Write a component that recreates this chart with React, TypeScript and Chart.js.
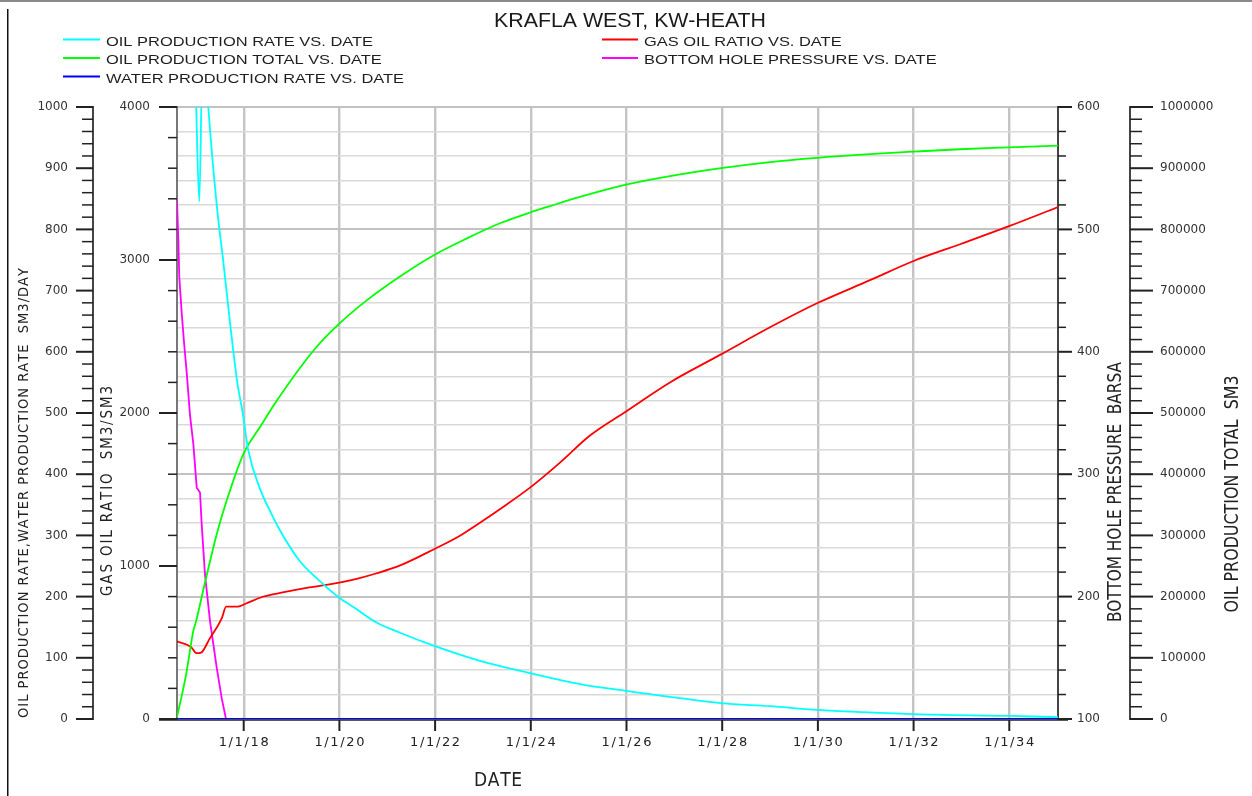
import React, { useEffect, useRef } from 'react';
import { Chart, registerables } from 'chart.js';

Chart.register(...registerables);

// ---------- texts ----------
const CHART_TITLE = 'KRAFLA WEST, KW-HEATH';
const X_TITLE = 'DATE';
const RATE_TITLE = 'OIL PRODUCTION RATE,WATER PRODUCTION RATE  SM3/DAY';
const GOR_TITLE = 'GAS OIL RATIO  SM3/SM3';
const BHP_TITLE = 'BOTTOM HOLE PRESSURE  BARSA';
const TOTAL_TITLE = 'OIL PRODUCTION TOTAL  SM3';

const seriesLabels = [
  'OIL PRODUCTION RATE VS. DATE',
  'OIL PRODUCTION TOTAL VS. DATE',
  'WATER PRODUCTION RATE VS. DATE',
  'GAS OIL RATIO VS. DATE',
  'BOTTOM HOLE PRESSURE VS. DATE',
];
const seriesColors = ['#00ffff', '#00ff00', '#0000ff', '#ff0000', '#ff00ff'];

// ---------- x axis (dates as decimal years) ----------
const X_MIN = 2016.606;
const X_MAX = 2035.018;
const xTickValues = [2018, 2020, 2022, 2024, 2026, 2028, 2030, 2032, 2034];
const xTickLabels = ['1/1/18', '1/1/20', '1/1/22', '1/1/24', '1/1/26', '1/1/28', '1/1/30', '1/1/32', '1/1/34'];

// ---------- y axes tick labels ----------
const rateTickLabels = [0, 100, 200, 300, 400, 500, 600, 700, 800, 900, 1000];
const gorTickLabels = [0, 1000, 2000, 3000, 4000];
const bhpTickLabels = [100, 200, 300, 400, 500, 600];
const totalTickLabels = [0, 100000, 200000, 300000, 400000, 500000, 600000, 700000, 800000, 900000, 1000000];
const RATE_MINOR = 20;
const GOR_MINOR = 200;
const BHP_MINOR = 20;
const TOTAL_MINOR = 20000;

// ---------- series ----------
const oilRate: [number, number][] = [
  [2016.606, 1180], [2016.98, 1060], [2017.072, 846], [2017.14, 1080], [2017.2, 1075],
  [2017.26, 1000], [2017.436, 840], [2017.574, 747], [2017.728, 638], [2017.866, 550],
  [2017.979, 500], [2018.096, 439], [2018.341, 376], [2018.55, 340], [2018.759, 308],
  [2019.162, 259], [2019.58, 226], [2019.998, 198], [2020.347, 180], [2020.765, 158],
  [2021.266, 141], [2021.998, 119], [2022.938, 95], [2023.983, 75], [2025.028, 57],
  [2025.989, 46], [2027.975, 26], [2028.999, 21], [2029.981, 15], [2031.987, 8],
  [2033.994, 5], [2035.018, 3],
];

const oilTotal: [number, number][] = [
  [2016.606, 3000], [2016.797, 73000], [2016.947, 144000], [2017.006, 160000], [2017.191, 223000],
  [2017.436, 302000], [2017.644, 357000], [2017.993, 433000], [2018.341, 477000], [2018.69, 520000],
  [2019.49, 605000], [2019.998, 646000], [2020.571, 684000], [2021.265, 723000], [2021.999, 759000],
  [2022.655, 785000], [2023.356, 810000], [2023.998, 828000], [2024.4, 838000], [2025.028, 853000],
  [2025.989, 873000], [2026.908, 887000], [2027.975, 900000], [2028.999, 910000], [2029.981, 917000],
  [2031.089, 923000], [2031.987, 927000], [2032.969, 931000], [2033.994, 934000], [2035.018, 937000],
];

const waterRate: [number, number][] = [
  [2016.606, 0], [2035.018, 0],
];

const gasOilRatio: [number, number][] = [
  [2016.606, 508], [2016.899, 471], [2017.018, 430], [2017.11, 434], [2017.283, 522],
  [2017.548, 663], [2017.632, 735], [2017.876, 735], [2018.048, 755], [2018.397, 799],
  [2018.815, 827], [2019.371, 860], [2019.998, 892], [2020.382, 918], [2020.765, 951],
  [2021.258, 1002], [2021.998, 1113], [2022.52, 1198], [2022.938, 1283], [2023.459, 1394],
  [2023.983, 1512], [2024.61, 1676], [2025.237, 1853], [2025.989, 2010], [2026.908, 2200],
  [2027.975, 2383], [2028.999, 2560], [2029.981, 2717], [2031.089, 2868], [2031.987, 2992],
  [2032.969, 3103], [2033.994, 3221], [2035.018, 3346],
];

const bottomHolePressure: [number, number][] = [
  [2016.606, 524], [2016.633, 493], [2016.654, 461], [2016.704, 432], [2016.752, 408],
  [2016.809, 383], [2016.878, 348], [2016.947, 325], [2017.018, 289], [2017.087, 285],
  [2017.122, 259], [2017.191, 218], [2017.296, 180], [2017.436, 142], [2017.54, 117],
  [2017.63, 100], [2035.018, 100],
];

// ---------- helpers ----------
const toXY = (arr: [number, number][]) => arr.map(([x, y]) => ({ x, y }));
const stepTicks = (min: number, max: number, step: number) => {
  const out: { value: number }[] = [];
  const n = Math.round((max - min) / step);
  for (let i = 0; i <= n; i++) out.push({ value: min + i * step });
  return out;
};

function drawFitted(
  ctx: CanvasRenderingContext2D,
  text: string,
  cx: number,
  cy: number,
  size: number,
  family: string,
  width: number,
  color: string,
  opts: { rotate?: boolean; align?: 'left' | 'center'; mode?: 'space' | 'scale' } = {}
) {
  ctx.save();
  ctx.font = `${size}px ${family}`;
  ctx.fillStyle = color;
  ctx.textBaseline = 'alphabetic';
  ctx.textAlign = 'left';
  ctx.translate(cx, cy);
  if (opts.rotate) ctx.rotate(-Math.PI / 2);
  const base = size * 0.36;
  const startX = opts.align === 'left' ? 0 : -width / 2;
  const chars = Array.from(text);
  const widths = chars.map((c) => ctx.measureText(c).width);
  const natural = widths.reduce((a, b) => a + b, 0);
  if (opts.mode === 'space' && chars.length > 1 && width >= natural) {
    const spacing = (width - natural) / (chars.length - 1);
    let x = startX;
    chars.forEach((c, i) => {
      ctx.fillText(c, x, base);
      x += widths[i] + spacing;
    });
  } else {
    const w = ctx.measureText(text).width;
    ctx.translate(startX, 0);
    ctx.scale(width / w, 1);
    ctx.fillText(text, 0, base);
  }
  ctx.restore();
}

const SANS = '"Liberation Sans", Arial, sans-serif';
const NARROW = '"Liberation Sans Narrow", "DejaVu Sans Condensed", "Liberation Sans", sans-serif';
const TICKFONT = '"DejaVu Sans", sans-serif';

const decorPlugin = {
  id: 'decor',
  afterDraw(chart: any) {
    const ctx: CanvasRenderingContext2D = chart.ctx;
    const ca = chart.chartArea;

    // frame
    ctx.save();
    ctx.fillStyle = '#8a8a8a';
    ctx.fillRect(0, 0, 1252, 2);
    ctx.fillStyle = '#111';
    ctx.fillRect(7, 9, 1.5, 787);
    ctx.restore();

    // title
    drawFitted(ctx, CHART_TITLE, 630, 19.5, 21, SANS, 272, '#1a1a1a', { mode: 'scale' });

    // legend
    ctx.save();
    ctx.font = `13.5px ${SANS}`;
    const legendScale = 267 / ctx.measureText(seriesLabels[0]).width;
    ctx.restore();
    const rowY = [41, 59.5, 78];
    seriesLabels.forEach((lab, i) => {
      const col = i < 3 ? 0 : 1;
      const row = i < 3 ? i : i - 3;
      const lx0 = col === 0 ? 63 : 602;
      const lx1 = col === 0 ? 100 : 638;
      const tx = col === 0 ? 106 : 644;
      const y = rowY[row];
      ctx.save();
      ctx.strokeStyle = seriesColors[i];
      ctx.lineWidth = 2;
      ctx.beginPath();
      ctx.moveTo(lx0, y - 1.5);
      ctx.lineTo(lx1, y - 1.5);
      ctx.stroke();
      ctx.font = `13.5px ${SANS}`;
      const w = ctx.measureText(lab).width * legendScale;
      ctx.restore();
      drawFitted(ctx, lab, tx, y, 13.5, SANS, w, '#1e1e1e', { align: 'left', mode: 'scale' });
    });

    // y tick marks
    const tickMarks = (scaleId: string, labels: number[], side: 'left' | 'right', edge: number, majorLen: number, minorLen: number) => {
      const s = chart.scales[scaleId];
      ctx.save();
      ctx.strokeStyle = '#222';
      s.ticks.forEach((t: any) => {
        const major = labels.includes(t.value);
        const len = major ? majorLen : minorLen;
        const y = s.getPixelForValue(t.value);
        ctx.lineWidth = major ? 2 : 1.5;
        ctx.beginPath();
        if (side === 'left') {
          ctx.moveTo(edge - len, y);
          ctx.lineTo(edge, y);
        } else {
          ctx.moveTo(edge, y);
          ctx.lineTo(edge + len, y);
        }
        ctx.stroke();
      });
      ctx.restore();
    };
    tickMarks('yRate', rateTickLabels, 'left', chart.scales.yRate.right, 17, 11);
    tickMarks('yGor', gorTickLabels, 'left', chart.scales.yGor.right, 18, 9);
    tickMarks('yBhp', bhpTickLabels, 'right', chart.scales.yBhp.left, 14, 8);
    tickMarks('yTotal', totalTickLabels, 'right', chart.scales.yTotal.left, 23, 12);

    // x baseline, ticks, labels
    const xs = chart.scales.x;
    const by = ca.bottom + 1;
    ctx.save();
    ctx.strokeStyle = '#222';
    ctx.lineWidth = 1.5;
    ctx.beginPath();
    ctx.moveTo(159, by);
    ctx.lineTo(1068, by);
    ctx.stroke();
    ctx.lineWidth = 2;
    xTickValues.forEach((v) => {
      const px = xs.getPixelForValue(v);
      ctx.beginPath();
      ctx.moveTo(px, by);
      ctx.lineTo(px, by + 11);
      ctx.stroke();
    });
    ctx.restore();
    xTickValues.forEach((v, i) => {
      const px = xs.getPixelForValue(v);
      drawFitted(ctx, xTickLabels[i], px, 741.5, 13, TICKFONT, 50, '#222', { mode: 'space' });
    });

    // axis titles
    drawFitted(ctx, X_TITLE, 498, 779.5, 19, NARROW, 48, '#222', { mode: 'space' });
    drawFitted(ctx, RATE_TITLE, 22.5, 493, 14.5, NARROW, 450, '#222', { rotate: true, mode: 'space' });
    drawFitted(ctx, GOR_TITLE, 106.5, 491, 15, NARROW, 210, '#222', { rotate: true, mode: 'space' });
    drawFitted(ctx, BHP_TITLE, 1114.5, 492, 19, NARROW, 260, '#222', { rotate: true, mode: 'space' });
    drawFitted(ctx, TOTAL_TITLE, 1231, 494, 19, NARROW, 237, '#222', { rotate: true, mode: 'space' });
  },
};

const tickFont = { family: '"DejaVu Sans", sans-serif', size: 12 };
const axisBorder = { display: true, color: '#444', width: 2 };

export default function App() {
  const ref = useRef<HTMLCanvasElement>(null);

  useEffect(() => {
    if (!ref.current) return;
    const line = (i: number, data: [number, number][], axis: string, smooth: boolean) => ({
      label: seriesLabels[i],
      data: toXY(data),
      borderColor: seriesColors[i],
      backgroundColor: seriesColors[i],
      borderWidth: 1.8,
      pointRadius: 0,
      tension: 0,
      cubicInterpolationMode: smooth ? 'monotone' : 'default',
      fill: false,
      yAxisID: axis,
    });

    const chart = new Chart(ref.current, {
      type: 'line',
      data: {
        datasets: [
          line(0, oilRate, 'yRate', true),
          line(1, oilTotal, 'yTotal', true),
          line(2, waterRate, 'yRate', false),
          line(3, gasOilRatio, 'yGor', true),
          line(4, bottomHolePressure, 'yBhp', false),
        ] as any,
      },
      options: {
        responsive: false,
        animation: false,
        events: [],
        layout: { padding: { top: 107, left: 10, right: 8, bottom: 0 } },
        plugins: { legend: { display: false }, title: { display: false }, tooltip: { enabled: false } },
        scales: {
          x: {
            type: 'linear',
            position: 'bottom',
            min: X_MIN,
            max: X_MAX,
            afterBuildTicks: (s: any) => { s.ticks = xTickValues.map((v) => ({ value: v })); },
            afterFit: (s: any) => { s.height = 77; },
            ticks: { display: false },
            grid: { color: '#c4c4c4', lineWidth: 2.4, drawTicks: false },
            border: { display: false },
          },
          yRate: {
            type: 'linear',
            position: 'left',
            weight: 2,
            min: 0,
            max: 1000,
            afterBuildTicks: (s: any) => { s.ticks = stepTicks(0, 1000, RATE_MINOR); },
            afterFit: (s: any) => { s.width = 83; },
            ticks: {
              autoSkip: false,
              padding: 25,
              font: tickFont,
              color: '#333',
              callback: (v: any) => (rateTickLabels.includes(v) ? String(v) : ''),
            },
            grid: { drawOnChartArea: false, drawTicks: false },
            border: axisBorder,
          },
          yGor: {
            type: 'linear',
            position: 'left',
            weight: 1,
            min: 0,
            max: 4000,
            afterBuildTicks: (s: any) => { s.ticks = stepTicks(0, 4000, GOR_MINOR); },
            afterFit: (s: any) => { s.width = 84; },
            ticks: {
              autoSkip: false,
              padding: 27,
              font: tickFont,
              color: '#333',
              callback: (v: any) => (gorTickLabels.includes(v) ? String(v) : ''),
            },
            grid: { drawOnChartArea: false, drawTicks: false },
            border: { display: true, color: '#777', width: 2 },
          },
          yBhp: {
            type: 'linear',
            position: 'right',
            weight: 1,
            min: 100,
            max: 600,
            afterBuildTicks: (s: any) => { s.ticks = stepTicks(100, 600, BHP_MINOR); },
            afterFit: (s: any) => { s.width = 72; },
            ticks: {
              autoSkip: false,
              padding: 19,
              font: tickFont,
              color: '#333',
              callback: (v: any) => (bhpTickLabels.includes(v) ? String(v) : ''),
            },
            grid: {
              drawOnChartArea: true,
              drawTicks: false,
              color: (c: any) => (c.tick && bhpTickLabels.includes(c.tick.value) ? '#c2c2c2' : '#d9d9d9'),
              lineWidth: (c: any) => (c.tick && bhpTickLabels.includes(c.tick.value) ? 2 : 1.5),
            },
            border: axisBorder,
          },
          yTotal: {
            type: 'linear',
            position: 'right',
            weight: 2,
            min: 0,
            max: 1000000,
            afterBuildTicks: (s: any) => { s.ticks = stepTicks(0, 1000000, TOTAL_MINOR); },
            afterFit: (s: any) => { s.width = 114; },
            ticks: {
              autoSkip: false,
              padding: 30,
              font: tickFont,
              color: '#333',
              callback: (v: any) => (totalTickLabels.includes(v) ? String(v) : ''),
            },
            grid: { drawOnChartArea: false, drawTicks: false },
            border: axisBorder,
          },
        } as any,
      },
      plugins: [decorPlugin],
    });
    return () => chart.destroy();
  }, []);

  return (
    <div style={{ position: 'absolute', left: 0, top: 0, width: 1252, height: 796, background: '#fff' }}>
      <canvas ref={ref} width={1252} height={796} style={{ display: 'block', width: 1252, height: 796 }} />
    </div>
  );
}
